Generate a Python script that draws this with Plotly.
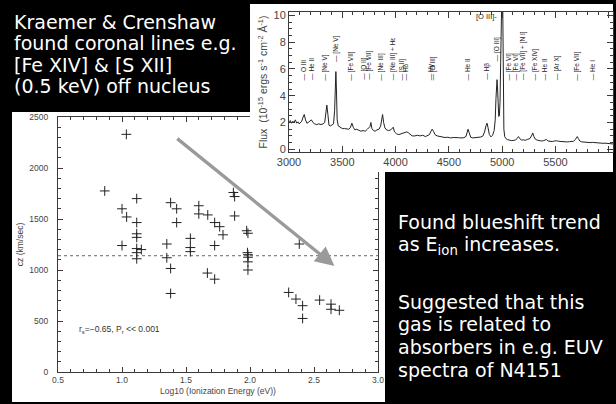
import plotly.graph_objects as go

W, H = 616, 404

# ---------------- scatter data: log10 ionization energy vs cz ----------------
log_eion = [1.034, 0.865, 1.0, 1.036, 1.0, 1.115, 1.115, 1.115, 1.115, 1.115, 1.115, 1.115,
            1.151, 1.35, 1.35, 1.38, 1.38, 1.38, 1.427, 1.427, 1.534, 1.534, 1.534, 1.60,
            1.60, 1.67, 1.667, 1.724, 1.724, 1.724, 1.763, 1.789, 1.87, 1.88, 1.88, 1.974,
            1.984, 1.98, 1.984, 1.984, 1.984, 1.984, 2.385, 2.302, 2.359, 2.411, 2.411,
            2.544, 2.633, 2.633, 2.698]
cz_kms = [2330, 1775, 1600, 1520, 1240, 1700, 1465, 1355, 1320, 1210, 1170, 1110,
          1200, 1255, 1120, 1015, 770, 1660, 1600, 1465, 1310, 1220, 1180, 1630,
          1550, 1540, 970, 1240, 910, 1465, 1425, 1345, 1760, 1720, 1530, 1385,
          1360, 1170, 1150, 1125, 1080, 1000, 1255, 780, 715, 650, 525,
          705, 665, 615, 605]
systemic_cz = 1140
systemic_x = [0.5, 3.0]
trend_start = (1.42, 2300)
trend_end = (2.66, 1040)
scatter_xrange = [0.5, 3.0]
scatter_xstep = 0.5
scatter_yrange = [0, 2500]
scatter_ystep = 500

# ---------------- spectrum data ----------------
wave = [3000, 3012, 3024, 3036, 3048, 3060, 3072, 3084, 3096, 3108, 3120, 3132, 3143, 3155,
        3168, 3180, 3195, 3210, 3225, 3240, 3260, 3280, 3300, 3320, 3335, 3345, 3355, 3365,
        3375, 3390, 3405, 3418, 3428, 3434, 3440, 3446, 3452, 3462, 3480, 3500, 3520, 3540,
        3560, 3575, 3590, 3603, 3618, 3635, 3655, 3675, 3695, 3715, 3735, 3748, 3760, 3768,
        3778, 3792, 3808, 3825, 3845, 3860, 3870, 3878, 3888, 3900, 3915, 3935, 3955, 3968,
        3978, 3990, 4010, 4030, 4050, 4070, 4090, 4105, 4118, 4135, 4155, 4180, 4205, 4230,
        4255, 4280, 4300, 4318, 4332, 4343, 4355, 4370, 4390, 4415, 4440, 4465, 4490, 4515,
        4540, 4565, 4590, 4615, 4640, 4660, 4672, 4680, 4690, 4705, 4725, 4750, 4775, 4800,
        4820, 4835, 4848, 4858, 4868, 4880, 4895, 4910, 4925, 4935, 4942, 4948, 4952, 4957,
        4963, 4968, 4974, 4980, 4986, 4992, 4998, 5004, 5010, 5016, 5024, 5035, 5050, 5070,
        5090, 5110, 5125, 5140, 5153, 5165, 5180, 5200, 5220, 5240, 5260, 5275, 5287, 5298,
        5312, 5330, 5350, 5370, 5390, 5405, 5415, 5430, 5450, 5470, 5490, 5510, 5530, 5550,
        5570, 5590, 5610, 5630, 5650, 5670, 5685, 5697, 5705, 5715, 5728, 5745, 5765, 5785,
        5805, 5825, 5845, 5865, 5885, 5905, 5925, 5945, 5965, 5985, 6005, 6025, 6040]
flux = [2.05, 2.15, 1.95, 2.1, 2.0, 2.2, 1.95, 2.05, 1.9, 2.0, 2.1, 2.4, 2.6, 2.2,
        1.95, 2.0, 2.1, 2.2, 2.0, 1.9, 1.85, 1.9, 1.85, 1.9, 2.0, 2.5, 3.3, 2.6,
        1.8, 1.75, 1.8, 1.9, 2.9, 4.5, 5.8, 4.2, 2.2, 1.75, 1.65, 1.55, 1.55, 1.5,
        1.5, 1.6, 1.95, 1.65, 1.45, 1.5, 1.4, 1.35, 1.4, 1.35, 1.5, 1.65, 1.7, 2.0,
        1.55, 1.4, 1.35, 1.45, 1.5, 1.75, 2.3, 2.6, 2.0, 1.6, 1.45, 1.4, 1.45, 1.6,
        1.65, 1.3, 1.15, 1.1, 1.15, 1.2, 1.25, 1.3, 1.25, 1.1, 1.0, 1.0, 1.05, 1.0,
        1.05, 0.95, 1.0, 1.1, 1.35, 1.5, 1.35, 1.1, 1.0, 0.95, 0.9, 0.88, 0.9, 0.85,
        0.88, 0.85, 0.87, 0.85, 0.87, 0.95, 1.3, 1.5, 1.25, 0.9, 0.85, 0.88, 0.9, 0.92,
        1.0, 1.3, 1.75, 1.95, 1.6, 1.1, 0.93, 1.05, 1.4, 2.2, 3.8, 5.0, 5.2, 4.5,
        2.8, 2.45, 2.5, 3.5, 6.5, 12.0, 12.0, 12.0, 4.5, 1.5, 0.95, 0.8, 0.72, 0.68,
        0.65, 0.67, 0.7, 0.8, 0.95, 0.8, 0.7, 0.7, 0.68, 0.75, 0.8, 1.0, 1.22, 0.95,
        0.75, 0.68, 0.65, 0.62, 0.65, 0.72, 0.74, 0.62, 0.6, 0.58, 0.62, 0.64, 0.6, 0.58,
        0.56, 0.58, 0.55, 0.57, 0.56, 0.6, 0.72, 0.88, 0.95, 0.8, 0.62, 0.56, 0.54, 0.52,
        0.53, 0.5, 0.52, 0.5, 0.48, 0.5, 0.47, 0.45, 0.46, 0.43, 0.44, 0.42, 0.4]
spec_xrange = [3000, 6040]
spec_xstep = 500
spec_yrange = [-0.2, 10.25]
spec_ystep = 2

line_names = ["O III", "He II", "[Ne V]", "[Ne V]", "[Fe VII]", "[O II]", "[Fe VII]",
              "[Ne III]", "[Ne III] + Hε", "[S II]", "Hδ", "Hγ", "[O III]", "He II", "Hβ",
              "[O III]", "[Fe VI]", "[Fe VI]", "[Fe VII] + [N I]", "[Fe XIV]", "He II",
              "[Ar X]", "[Fe VII]", "He I"]
line_waves = [3137, 3212, 3337, 3440, 3580, 3704, 3751, 3867, 3970, 4063, 4094, 4328, 4353,
              4671, 4858, 4950, 5066, 5132, 5197, 5309, 5394, 5515, 5702, 5842]
line_base = [5.0, 5.0, 5.0, 6.4, 5.0, 5.0, 5.0, 5.0, 5.0, 5.0, 5.0, 5.0, 5.0,
             5.0, 5.0, 6.4, 5.0, 5.0, 5.0, 5.0, 5.0, 5.0, 5.0, 5.0]
oiii_label = "[O III]-"
oiii_label_pos = (4975, 9.95)

box1_lines = ["Kraemer & Crenshaw", "found coronal lines e.g.", "[Fe XIV] & [S XII]",
              "(0.5 keV) off nucleus"]
box2_lines = ["Found blueshift trend", "as E<sub>ion</sub> increases.", "",
              "Suggested that this", "gas is related to", "absorbers in e.g. EUV",
              "spectra of N4151"]

def px(x):
    return x / W

def py(y):
    return 1 - y / H

AX = "#3a3a3a"
FAM = "Liberation Sans, Arial, sans-serif"
TICKF = dict(family=FAM, size=8.5, color="#444")
SPECF = dict(family=FAM, size=11, color="#444")

fig = go.Figure()

fig.add_trace(go.Scatter(x=systemic_x, y=[systemic_cz, systemic_cz], mode="lines",
                         line=dict(color="#666", width=1, dash="dot"),
                         xaxis="x", yaxis="y", hoverinfo="skip", showlegend=False))
fig.add_trace(go.Scatter(x=log_eion, y=cz_kms, mode="markers",
                         marker=dict(symbol="cross-thin", size=7, line=dict(color="#222", width=1)),
                         xaxis="x", yaxis="y", showlegend=False))
# dummy white panel subplot (x2, y2) hiding the scatter frame under the spectrum
fig.add_trace(go.Scatter(x=[0.5], y=[0.5], mode="markers", marker=dict(opacity=0),
                         xaxis="x2", yaxis="y2", hoverinfo="skip", showlegend=False))
fig.add_trace(go.Scatter(x=wave, y=flux, mode="lines", line=dict(color="#222", width=1),
                         xaxis="x3", yaxis="y3", showlegend=False))

common = dict(showgrid=False, zeroline=False, showline=True, linecolor=AX, linewidth=1,
              ticks="inside", tickcolor=AX, tickwidth=1, mirror="ticks", automargin=False)

fig.update_layout(
    width=W, height=H,
    margin=dict(l=0, r=0, t=0, b=0, pad=0),
    paper_bgcolor="black",
    plot_bgcolor="white",
    showlegend=False,
    xaxis=dict(domain=[px(58), px(378)], range=scatter_xrange, anchor="y",
               tick0=scatter_xrange[0], dtick=scatter_xstep, tickformat=".1f", ticklen=5,
               minor=dict(ticks="inside", dtick=0.1, ticklen=3, tickcolor=AX, tickwidth=1),
               tickfont=TICKF,
               title=dict(text="Log10 (Ionization Energy (eV))", font=TICKF, standoff=3),
               **common),
    yaxis=dict(domain=[py(372), py(117)], range=scatter_yrange, anchor="x",
               tick0=0, dtick=scatter_ystep, ticklen=5, ticksuffix="\u00a0\u00a0\u00a0",
               minor=dict(ticks="inside", dtick=100, ticklen=3, tickcolor=AX, tickwidth=1),
               tickfont=TICKF,
               title=dict(text="cz (km/sec)", font=TICKF, standoff=4),
               **common),
    xaxis2=dict(domain=[px(250), px(613)], anchor="y2", visible=False, range=[0, 1]),
    yaxis2=dict(domain=[py(172), py(4)], anchor="x2", visible=False, range=[0, 1]),
    xaxis3=dict(domain=[px(289), px(613)], range=spec_xrange, anchor="y3",
                tick0=spec_xrange[0], dtick=spec_xstep, ticklen=6,
                minor=dict(ticks="inside", dtick=100, ticklen=3, tickcolor=AX, tickwidth=1),
                tickfont=SPECF, **common),
    yaxis3=dict(domain=[py(152), py(12)], range=spec_yrange, anchor="x3",
                tick0=0, dtick=spec_ystep, ticklen=6,
                minor=dict(ticks="inside", dtick=0.5, ticklen=3, tickcolor=AX, tickwidth=1),
                tickfont=SPECF,
                title=dict(text="Flux  (10<sup>-15</sup> ergs s<sup>-1</sup> cm<sup>-2</sup> Å<sup>-1</sup>)",
                           font=dict(family=FAM, size=10.5, color="#444"), standoff=3),
                **common),
)

shapes = [
    dict(type="rect", xref="paper", yref="paper", x0=px(12), x1=px(386), y0=py(402), y1=py(112),
         fillcolor="white", line=dict(width=0), layer="below"),
    dict(type="rect", xref="paper", yref="paper", x0=px(385), x1=1, y0=0, y1=py(172),
         fillcolor="black", line=dict(width=0), layer="above"),
]
fig.update_layout(shapes=shapes)

ann = []
ann.append(dict(x=trend_end[0], y=trend_end[1], ax=trend_start[0], ay=trend_start[1],
                xref="x", yref="y", axref="x", ayref="y", text="", showarrow=True,
                arrowhead=2, arrowsize=1.15, arrowwidth=3.3, arrowcolor="#9a9a9a"))
ann.append(dict(x=0.648, y=412, xref="x", yref="y", xanchor="left", yanchor="middle",
                text="r<sub>s</sub>=−0.65, P<sub>r</sub> &lt;&lt; 0.001", showarrow=False,
                font=dict(family=FAM, size=8.5, color="#333")))
for name, wl, b in zip(line_names, line_waves, line_base):
    ann.append(dict(x=wl, y=b, xref="x3", yref="y3", text="— " + name, textangle=-90,
                    xanchor="center", yanchor="bottom", showarrow=False,
                    font=dict(family=FAM, size=6.5, color="#222")))
ann.append(dict(x=oiii_label_pos[0], y=oiii_label_pos[1], xref="x3", yref="y3", text=oiii_label,
                xanchor="right", yanchor="middle", showarrow=False,
                font=dict(family=FAM, size=7.5, color="#222")))

BOXF = dict(family="DejaVu Sans, sans-serif", size=19, color="white")
box1_y = [22, 43, 65, 86]
for t, yy in zip(box1_lines, box1_y):
    ann.append(dict(x=px(12), y=py(yy), xref="paper", yref="paper", text=t, xanchor="left",
                    yanchor="middle", showarrow=False, font=BOXF))
box2_y = [222, 245, 273, 302, 324, 347, 370]
for t, yy in zip(box2_lines, box2_y):
    if t:
        ann.append(dict(x=px(396), y=py(yy), xref="paper", yref="paper", text=t, xanchor="left",
                        yanchor="middle", showarrow=False, font=BOXF))

fig.update_layout(annotations=ann)

fig.write_html("out.html")
